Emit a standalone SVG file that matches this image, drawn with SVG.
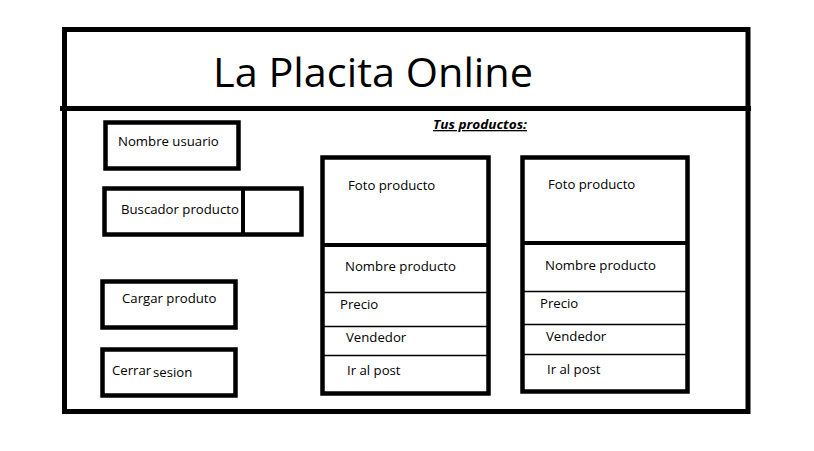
<svg xmlns="http://www.w3.org/2000/svg" width="814" height="451" viewBox="0 0 814 451">
<style>
.thick{fill:none;stroke:#000;stroke-width:5}
.box{fill:none;stroke:#000;stroke-width:4.5}
.thin{stroke:#000;stroke-width:1.3}
.lbl{font-family:"Open Sans","Liberation Sans",sans-serif;font-size:13.2px;fill:#000}
.title{font-family:"Open Sans","Liberation Sans",sans-serif;font-size:40px;fill:#000}
.sub{font-family:"Open Sans","Liberation Sans",sans-serif;font-size:13px;font-weight:bold;font-style:italic;fill:#000;text-decoration:underline}
</style>
<rect width="814" height="451" fill="#fff"/>
<g id="frame">
<rect class="thick" x="64.5" y="29.5" width="683.5" height="382"/>
<line x1="60" y1="108.5" x2="751" y2="108.5" stroke="#000" stroke-width="5"/>
</g>
<g id="title"><text class="title" x="213" y="87" textLength="320" lengthAdjust="spacingAndGlyphs">La Placita Online</text></g>
<g id="tus-productos"><text class="sub" x="433" y="129" textLength="94" lengthAdjust="spacingAndGlyphs">Tus productos:</text></g>
<g id="nombre-usuario">
<rect class="box" x="105.5" y="122.5" width="133" height="46"/>
<text class="lbl" x="118" y="146">Nombre usuario</text>
</g>
<g id="buscador-producto">
<rect class="box" x="104.5" y="188.5" width="197" height="46"/>
<text class="lbl" x="121" y="214">Buscador producto</text>
<line x1="243" y1="188" x2="243" y2="235" stroke="#000" stroke-width="4"/>
</g>
<g id="cargar-produto">
<rect class="box" x="102.5" y="281.5" width="133" height="46"/>
<text class="lbl" x="122" y="303">Cargar produto</text>
</g>
<g id="cerrar-sesion">
<rect class="box" x="102.5" y="349.5" width="133" height="46"/>
<text class="lbl" x="112" y="375">Cerrar</text>
<text class="lbl" x="153" y="377">sesion</text>
</g>
<g id="producto-1">
<rect class="box" x="322.5" y="157.5" width="166" height="236"/>
<line x1="322" y1="245" x2="489" y2="245" stroke="#000" stroke-width="4"/>
<line class="thin" x1="322" y1="292.5" x2="489" y2="292.5"/>
<line class="thin" x1="322" y1="326.5" x2="489" y2="326.5"/>
<line class="thin" x1="322" y1="355.5" x2="489" y2="355.5"/>
<text class="lbl" x="348" y="190">Foto producto</text>
<text class="lbl" x="345" y="271">Nombre producto</text>
<text class="lbl" x="340" y="309">Precio</text>
<text class="lbl" x="346" y="342">Vendedor</text>
<text class="lbl" x="347" y="375">Ir al post</text>
</g>
<g id="producto-2">
<rect class="box" x="522.5" y="157.5" width="165" height="234"/>
<line x1="522" y1="243" x2="688" y2="243" stroke="#000" stroke-width="4"/>
<line class="thin" x1="522" y1="291.5" x2="688" y2="291.5"/>
<line class="thin" x1="522" y1="324.5" x2="688" y2="324.5"/>
<line class="thin" x1="522" y1="354.5" x2="688" y2="354.5"/>
<text class="lbl" x="548" y="189">Foto producto</text>
<text class="lbl" x="545" y="270">Nombre producto</text>
<text class="lbl" x="540" y="308">Precio</text>
<text class="lbl" x="546" y="341">Vendedor</text>
<text class="lbl" x="547" y="374">Ir al post</text>
</g>
<g id="connectors"></g>
</svg>
